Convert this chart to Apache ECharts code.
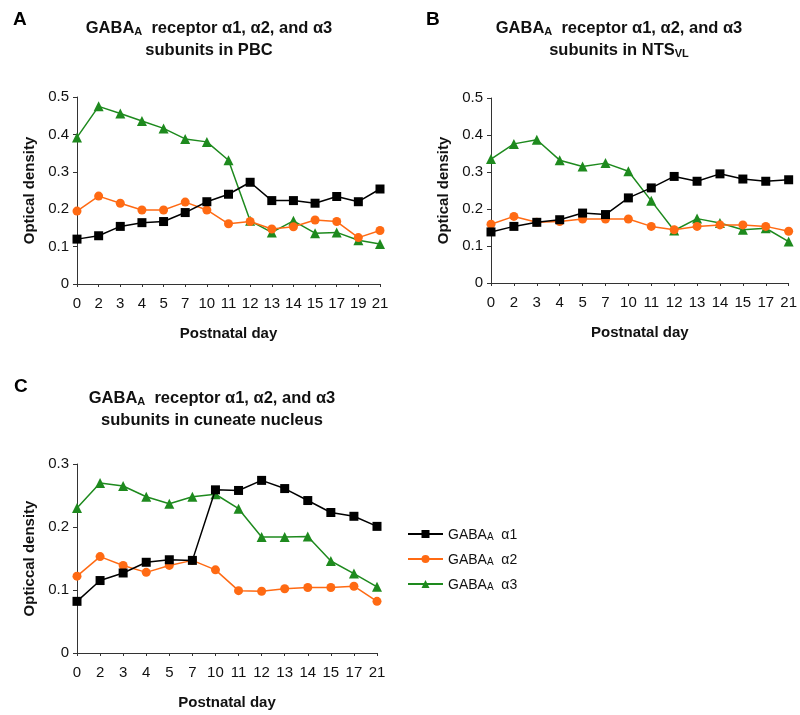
<!DOCTYPE html>
<html>
<head>
<meta charset="utf-8">
<script src="https://cdn.jsdelivr.net/npm/echarts@6/dist/echarts.min.js"></script>
<style>html,body{margin:0;padding:0;background:#fff}#c{width:800px;height:715px}</style>
</head>
<body>
<div id="c"></div>
<script>
// Categories (postnatal days)
const daysA = ['0','2','3','4','5','7','10','11','12','13','14','15','17','19','21'];
const daysB = ['0','2','3','4','5','7','10','11','12','13','14','15','17','21'];
const daysC = ['0','2','3','4','5','7','10','11','12','13','14','15','17','21'];

// Panel A: PBC
const a1_A = [0.120,0.129,0.154,0.164,0.167,0.191,0.220,0.240,0.272,0.223,0.223,0.216,0.234,0.220,0.254];
const a2_A = [0.195,0.235,0.216,0.198,0.198,0.219,0.198,0.161,0.167,0.147,0.153,0.171,0.167,0.124,0.143];
const a3_A = [0.392,0.475,0.456,0.436,0.416,0.388,0.380,0.331,0.169,0.138,0.169,0.136,0.138,0.117,0.107];

// Panel B: NTS VL
const a1_B = [0.138,0.153,0.164,0.171,0.189,0.185,0.230,0.257,0.288,0.275,0.295,0.281,0.275,0.279];
const a2_B = [0.159,0.180,0.164,0.166,0.173,0.173,0.173,0.153,0.144,0.153,0.157,0.157,0.153,0.140];
const a3_B = [0.335,0.376,0.387,0.332,0.315,0.324,0.302,0.222,0.142,0.174,0.162,0.144,0.148,0.112];

// Panel C: cuneate nucleus
const a1_C = [0.082,0.115,0.127,0.144,0.148,0.147,0.259,0.258,0.274,0.261,0.242,0.223,0.217,0.201];
const a2_C = [0.122,0.153,0.139,0.128,0.139,0.147,0.132,0.099,0.098,0.102,0.104,0.104,0.106,0.082];
const a3_C = [0.230,0.270,0.265,0.248,0.237,0.248,0.252,0.229,0.184,0.184,0.185,0.146,0.126,0.105];

const seriesNames = ['GABAA α1','GABAA α2','GABAA α3'];
const yTicksAB = {min:0, max:0.5, interval:0.1};
const yTicksC = {min:0, max:0.3, interval:0.1};

const FONT = 'Liberation Sans, Arial, sans-serif';
const colors = ['#000000', '#FF6A13', '#1E8A1E'];
const symbols = ['rect', 'circle', 'triangle'];
const symSizes = [9, 9, 10];

const titleRich = {
  b: {fontSize:16.5, fontWeight:'bold', fontFamily:FONT, color:'#111', lineHeight:22, verticalAlign:'bottom'},
  s: {fontSize:11, fontWeight:'bold', fontFamily:FONT, color:'#111', lineHeight:14, verticalAlign:'bottom'}
};

function mkTitle(text, x, y) {
  return {text: text, left: x, top: y, textAlign: 'center',
    textStyle: {rich: titleRich, fontFamily: FONT}};
}
function letter(t, x, y) {
  return {text: t, left: x, top: y, textStyle:{fontSize:19, fontWeight:'bold', fontFamily:FONT, color:'#000'}};
}

const grids = [
  {left:77, top:97, width:303, height:187},
  {left:491, top:98, width:300, height:185},
  {left:77, top:464, width:300, height:189}
];

function xAx(i, data) {
  return {type:'category', gridIndex:i, data:data, boundaryGap:false,
    name:'Postnatal day', nameLocation:'middle', nameGap:42,
    nameTextStyle:{fontSize:15, fontWeight:'bold', fontFamily:FONT, color:'#111'},
    axisLine:{lineStyle:{color:'#333', width:1}},
    axisTick:{show:true, length:3, lineStyle:{color:'#333'}},
    axisLabel:{fontSize:15, fontFamily:FONT, color:'#111', margin:12, interval:0},
    splitLine:{show:false}};
}
function yAx(i, t, name) {
  return {type:'value', gridIndex:i, min:t.min, max:t.max, interval:t.interval,
    name:name, nameLocation:'middle', nameGap:40,
    nameTextStyle:{fontSize:15, fontWeight:'bold', fontFamily:FONT, color:'#111'},
    axisLine:{show:true, lineStyle:{color:'#333', width:1}},
    axisTick:{show:true, length:4, lineStyle:{color:'#333'}},
    axisLabel:{fontSize:15, fontFamily:FONT, color:'#111', margin:8},
    splitLine:{show:false}};
}

const panelData = [[a1_A,a2_A,a3_A],[a1_B,a2_B,a3_B],[a1_C,a2_C,a3_C]];
const series = [];
panelData.forEach((arrs, gi) => {
  arrs.forEach((d, k) => {
    series.push({type:'line', name:seriesNames[k], xAxisIndex:gi, yAxisIndex:gi, data:d,
      symbol:symbols[k], symbolSize:symSizes[k],
      lineStyle:{color:colors[k], width:1.5}, itemStyle:{color:colors[k]}, z: 3 - k});
  });
});

const chart = echarts.init(document.getElementById('c'), null, {renderer:'canvas'});
chart.setOption({
  animation:false,
  backgroundColor:'#fff',
  title:[
    letter('A', 8, 5),
    letter('B', 421, 5),
    letter('C', 9, 372),
    mkTitle('{b|GABA}{s|A}{b|  receptor α1, α2, and α3}\n{b|subunits in PBC}', 204, 10),
    mkTitle('{b|GABA}{s|A}{b|  receptor α1, α2, and α3}\n{b|subunits in NTS}{s|VL}', 614, 10),
    mkTitle('{b|GABA}{s|A}{b|  receptor α1, α2, and α3}\n{b|subunits in cuneate nucleus}', 207, 380)
  ],
  legend:{orient:'vertical', left:402, top:523, itemWidth:35, itemHeight:10, itemGap:11,
    data:seriesNames,
    formatter: n => '{n|GABA}{s|A}{n|  ' + n.split(' ')[1] + '}',
    textStyle:{fontFamily:FONT, rich:{
      n:{fontSize:14, fontFamily:FONT, color:'#111', lineHeight:16, verticalAlign:'bottom'},
      s:{fontSize:10, fontFamily:FONT, color:'#111', lineHeight:11, verticalAlign:'bottom'}}}},
  grid:grids,
  xAxis:[xAx(0, daysA), xAx(1, daysB), xAx(2, daysC)],
  yAxis:[yAx(0, yTicksAB, 'Optical density'), yAx(1, yTicksAB, 'Optical density'), yAx(2, yTicksC, 'Opticcal density')],
  series:series
});
</script>
</body>
</html>
